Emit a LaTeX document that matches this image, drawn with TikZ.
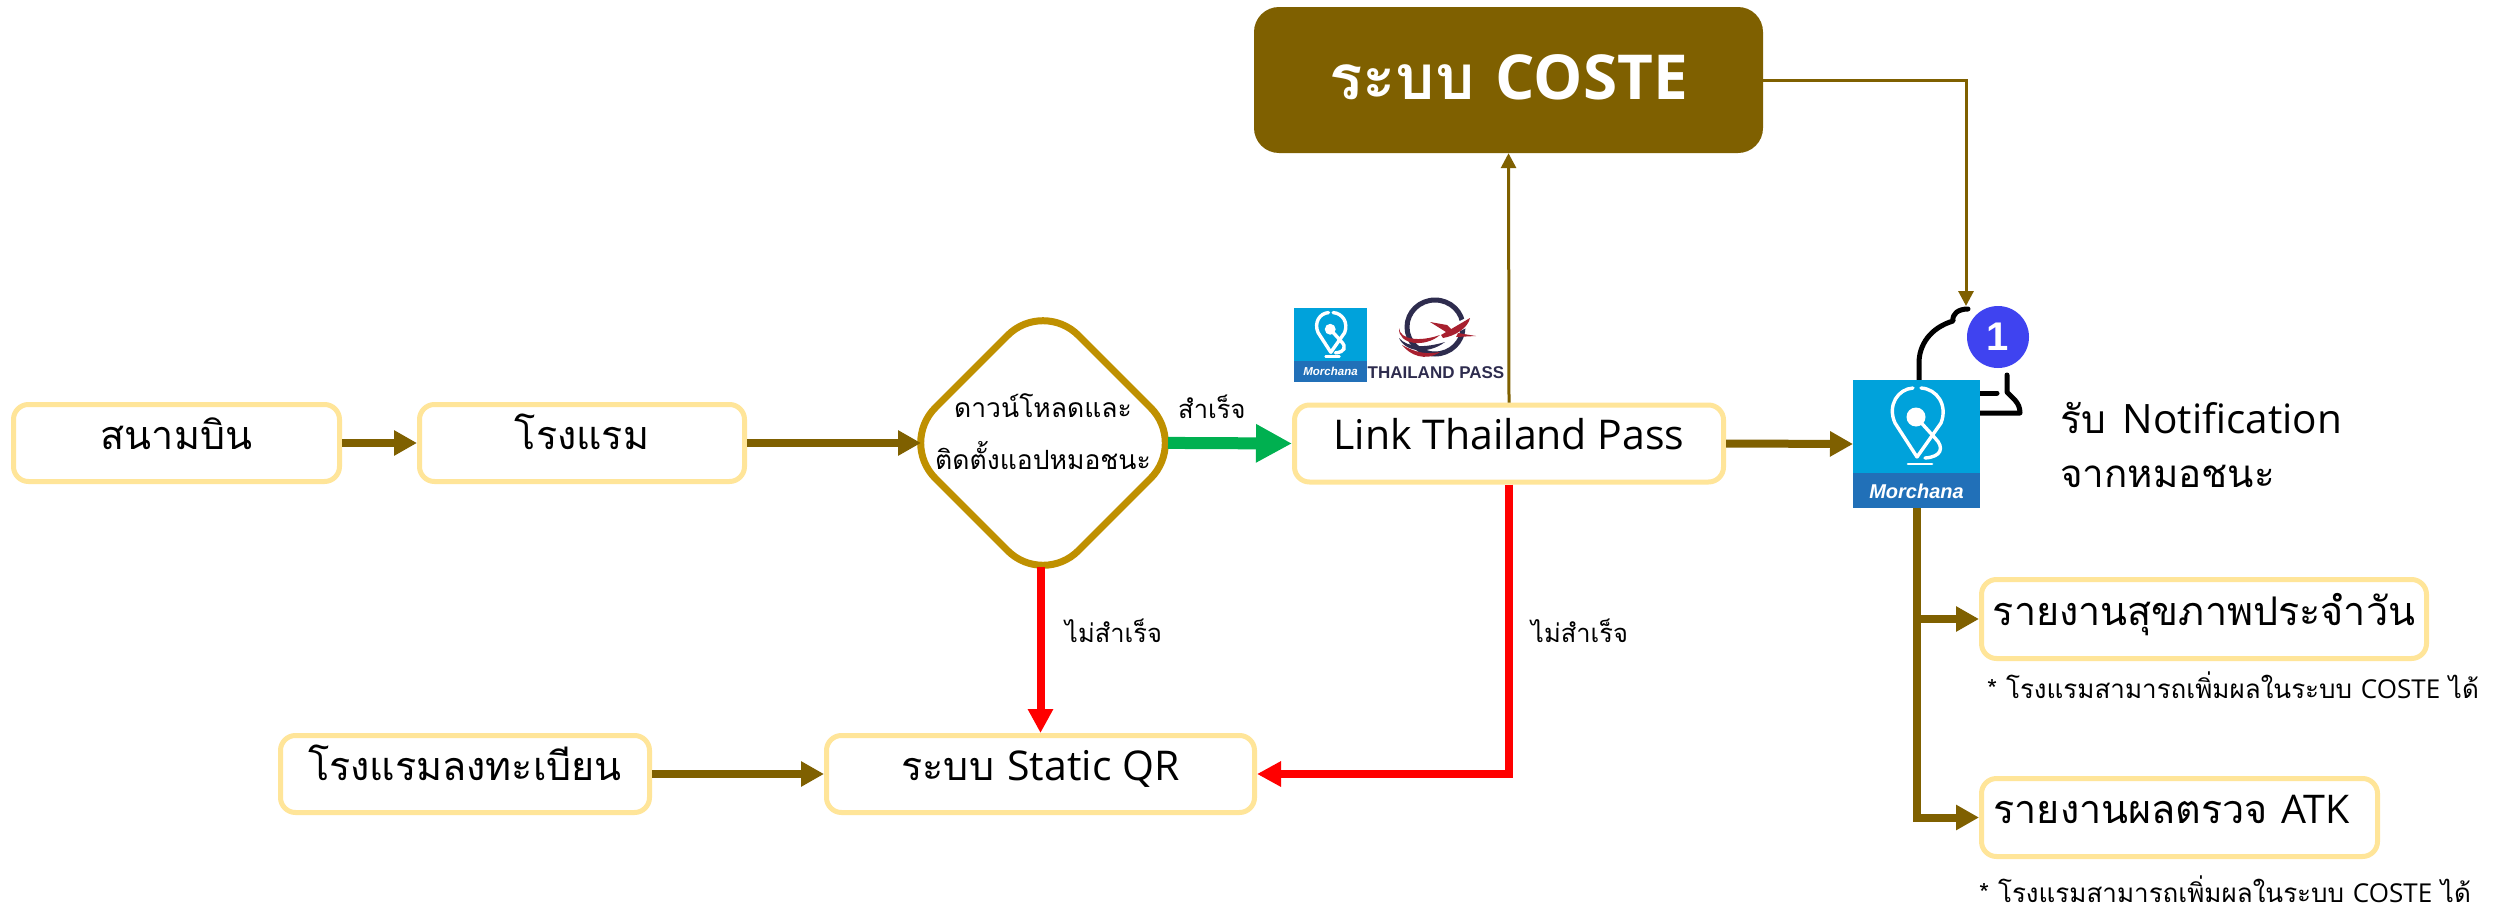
\documentclass[tikz,border=0pt]{standalone}
\usepackage{fontspec}
\usetikzlibrary{arrows.meta,shapes.geometric}
\setmainfont{Loma}[Script=Thai]
\newfontfamily\lat{Open Sans}
\newfontfamily\latb{Open Sans}[BoldFont=* Bold]
\newfontfamily\logofont{Liberation Sans}
\newcommand{\fs}[1]{\fontsize{#1pt}{#1pt}\selectfont}
\definecolor{brownc}{HTML}{7F6000}
\definecolor{goldc}{HTML}{BF9000}
\definecolor{palec}{HTML}{FFE599}
\definecolor{greenc}{HTML}{00B050}
\definecolor{skyc}{HTML}{00A2DB}
\definecolor{bluec}{HTML}{2170B8}
\definecolor{badgec}{HTML}{3F43F0}
\definecolor{navyc}{HTML}{2E2C4E}
\definecolor{redlogo}{HTML}{A8202F}
\tikzset{
  boxnode/.style={draw=palec,line width=5pt,rounded corners=15pt,fill=white,minimum height=77pt,inner sep=0pt,
    font=\fs{39.5},text height=32pt,text depth=20pt,align=center},
  thickarrow/.style={draw=brownc,line width=8pt,-{Triangle[length=23pt,width=24pt]}},
  redarrow/.style={draw=red,line width=8pt,-{Triangle[length=24pt,width=24pt]}},
  thinarrow/.style={draw=brownc,line width=3pt,-{Triangle[length=15pt,width=15pt]}},
  lbl/.style={anchor=base west,inner sep=0pt,font=\fs{25.5}},
  notelbl/.style={anchor=base west,inner sep=0pt,font=\fs{26}},
  morchana/.pic={
    \fill[skyc] (0,0) rectangle (127,93);
    \fill[bluec] (0,93) rectangle (127,128);
    \draw[white,line width=3.4pt,line cap=round,line join=round]
      (64,77) -- (42,43) .. controls (34,25) and (45,9) .. (60,8);
    \draw[white,line width=3.4pt,line cap=round,line join=round]
      (68,8) .. controls (84,9) and (95,25) .. (88,43) -- (64,77);
    \fill[white] (63,37) circle (9.5);
    \draw[white,line width=3.4pt,line cap=round] (63,37) -- (82,58) .. controls (92,68) and (88,77) .. (72,78);
    \draw[white,line width=2.6pt,line cap=round] (55,84) -- (79,84);
    \node[white,inner sep=0pt,transform shape,font=\logofont\fs{20}\bfseries\itshape] (-label) at (63.5,111) {Morchana};
  }
}
\begin{document}
\begin{tikzpicture}[x=1pt,y=-1pt]
\useasboundingbox[fill=white] (0,0) rectangle (2504,910);
% boxes
\node[boxnode,minimum width=326pt] (airport) at (176.5,443) {สนามบิน};
\node[boxnode,minimum width=325pt] (hotel) at (582,443) {โรงแรม};
\node[draw=goldc,line width=7pt,fill=white,shape=diamond,rounded corners=50pt,minimum width=286pt,minimum height=286pt,inner sep=0pt,outer sep=0pt] (dl) at (1043,443) {};
\node[align=center,inner sep=0pt,font=\fs{26.5},anchor=base] (dltext) at (1043,417) {ดาวน์โหลดและ};
\node[align=center,inner sep=0pt,font=\fs{26.5},anchor=base] (dltext2) at (1043,469) {ติดตั้งแอปหมอชนะ};
\node[boxnode,minimum width=429pt] (link) at (1509,443.5) {\lat\fs{41}Link Thailand Pass};
\node[boxnode,minimum width=428pt] (qr) at (1040.5,774) {ระบบ {\lat\fs{41}Static QR}};
\node[boxnode,minimum width=369pt] (reg) at (465,774) {โรงแรมลงทะเบียน};
\node[boxnode,minimum width=445pt,minimum height=79pt] (health) at (2204,619) {รายงานสุขภาพประจำวัน};
\node[boxnode,minimum width=396pt,minimum height=78pt,text width=384pt,align=left] (atk) at (2179.5,817.5) {\hspace{6pt}รายงานผลตรวจ {\lat ATK}};
\node[fill=brownc,rounded corners=25pt,minimum width=509pt,minimum height=146pt,inner sep=0pt,text=white,
  font=\fs{62}\bfseries,text height=60pt,text depth=22pt] (coste) at (1508.5,80) {ระบบ {\latb\bfseries COSTE}};
% bell
\draw[black,line width=5pt,line cap=round,line join=round]
  (1919,385) -- (1919,363) .. controls (1919,345) and (1930,328) .. (1953,321)
  .. controls (1952,314) and (1958,309) .. (1968,309);
\draw[black,line width=5pt,line cap=round,line join=round]
  (2007,375) -- (2007,392) .. controls (2012,398) and (2020,402) .. (2020,413) -- (1975,413);
\draw[black,line width=5pt,line cap=round] (1975,393) -- (1997,393);
\coordinate (belltop) at (1966,306);
% icons
\node[minimum width=127pt,minimum height=128pt,inner sep=0pt,outer sep=0pt] (iconr) at (1916.5,444) {};
\pic (mr) at (1853,380) {morchana};
\node[circle,fill=badgec,minimum size=62pt,inner sep=0pt,text=white,font=\logofont\fs{40}\bfseries] (badge) at (1998,337) {1};
\pic[scale=0.575] (ms) at (1294,308) {morchana};
% Thailand Pass logo
\draw[navyc,line width=5pt] (1435,327) ellipse[x radius=28,y radius=27];
\draw[white,line width=9pt] (1436,338) -- (1476,318);
\fill[redlogo] (1399,328) .. controls (1400,340) and (1420,342) .. (1440,335) .. controls (1425,348) and (1398,345) .. cycle;
\fill[navyc] (1399,338) .. controls (1408,348) and (1425,348) .. (1445,342) .. controls (1428,355) and (1405,352) .. cycle;
\fill[redlogo] (1402,345) .. controls (1415,352) and (1425,355) .. (1440,352) .. controls (1425,362) and (1410,355) .. cycle;
\fill[redlogo] (1441,335) -- (1470,318) .. controls (1468,328) and (1455,336) .. (1443,338) -- cycle;
\fill[redlogo] (1430,322) -- (1447,325) -- (1452,330) -- (1446,332) -- cycle;
\fill[redlogo] (1458,333) -- (1476,336) -- (1456,337) -- cycle;
\node[navyc,inner sep=0pt,font=\logofont\fs{17}\bfseries] (tplogo) at (1436,373) {THAILAND PASS};
% connectors
\draw[thickarrow] (airport.east) -- (hotel.west);
\draw[thickarrow,shorten >=-21pt] (hotel.east) -- (dl.west);
\draw[draw=greenc,line width=12pt,-{Triangle[length=36pt,width=36pt]},shorten <=-18pt] (dl.east) -- (link.west);
\draw[redarrow,shorten <=-19pt] (dl.south -| qr.north) -- (qr.north);
\draw[thickarrow] (reg.east) -- (qr.west);
\draw[redarrow] (link.south) |- (qr.east);
\draw[thinarrow] (link.north) -- (coste.south);
\draw[thinarrow] (coste.east) -| (belltop);
\draw[thickarrow] (link.east) -- (iconr.west);
\draw[thickarrow] (iconr.south) |- (health.west);
\draw[thickarrow] (iconr.south) |- (atk.west);
% labels
\node[lbl] (ok) at (1178,418) {สำเร็จ};
\node[lbl] (fail1) at (1065,642) {ไม่สำเร็จ};
\node[lbl] (fail2) at (1531,642) {ไม่สำเร็จ};
\node[anchor=base west,inner sep=0pt,font=\fs{39}] (n1) at (2060,433) {รับ\hspace{17pt}{\lat\fs{40.5}Notification}};
\node[anchor=base west,inner sep=0pt,font=\fs{38.5}] (n2) at (2060,487) {จากหมอชนะ};
\node[notelbl] (note1) at (1987,698) {* โรงแรมสามารถเพิ่มผลในระบบ {\lat COSTE} ได้};
\node[notelbl] (note2) at (1979,902) {* โรงแรมสามารถเพิ่มผลในระบบ {\lat COSTE} ได้};
\end{tikzpicture}
\end{document}
